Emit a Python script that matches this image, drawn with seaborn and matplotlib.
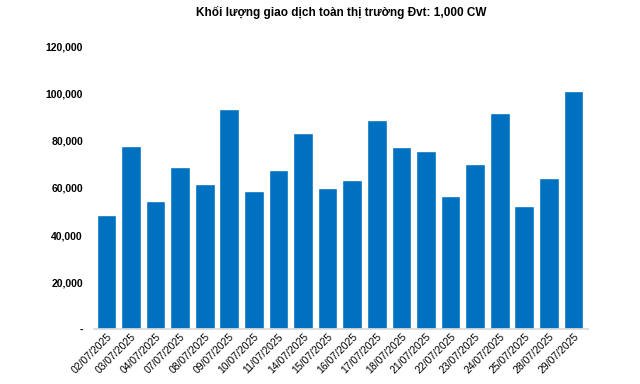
import matplotlib
matplotlib.use("Agg")
import matplotlib.pyplot as plt
import matplotlib.ticker as mticker
import seaborn as sns
import pandas as pd

dates = ['02/07/2025', '03/07/2025', '04/07/2025', '07/07/2025', '08/07/2025',
         '09/07/2025', '10/07/2025', '11/07/2025', '14/07/2025', '15/07/2025',
         '16/07/2025', '17/07/2025', '18/07/2025', '21/07/2025', '22/07/2025',
         '23/07/2025', '24/07/2025', '25/07/2025', '28/07/2025', '29/07/2025']
volume = [48500, 77900, 54500, 69000, 61700, 93600, 58700, 67700, 83400, 60000,
          63400, 89000, 77400, 75700, 56600, 70200, 92000, 52300, 64300, 101300]
title = 'Khối lượng giao dịch toàn thị trường Đvt: 1,000 CW'

df = pd.DataFrame({'date': dates, 'volume': volume})

sns.set_theme(style='white')
plt.rcParams['font.family'] = ['Liberation Sans', 'DejaVu Sans']

fig, ax = plt.subplots(figsize=(6.4, 3.84), dpi=100)
fig.subplots_adjust(left=0.147, right=0.919, top=0.878, bottom=0.143)

sns.barplot(data=df, x='date', y='volume', color='#0070C0', saturation=1,
            width=0.8, ax=ax)

ax.set_ylim(0, 120000)
ax.set_xlim(-0.5, len(dates) - 0.4)
ax.yaxis.set_major_locator(mticker.MultipleLocator(20000))
ax.yaxis.set_major_formatter(mticker.FuncFormatter(
    lambda v, p: '-' if v == 0 else f'{int(v):,}'))
ax.set_xlabel('')
ax.set_ylabel('')
ax.set_title(title, fontsize=8.5, fontweight='bold', pad=22, color='black')

for s in ['top', 'right', 'left']:
    ax.spines[s].set_visible(False)
ax.spines['bottom'].set_color('#d9d9d9')
ax.tick_params(axis='y', length=0, labelsize=7.5, pad=8, labelcolor='black')
ax.tick_params(axis='x', length=0, labelsize=7.5, pad=2, labelcolor='black')
for lbl in ax.get_yticklabels():
    lbl.set_fontweight('bold')
plt.setp(ax.get_xticklabels(), rotation=45, ha='right', rotation_mode='anchor')

fig.savefig('out.png', dpi=100)
